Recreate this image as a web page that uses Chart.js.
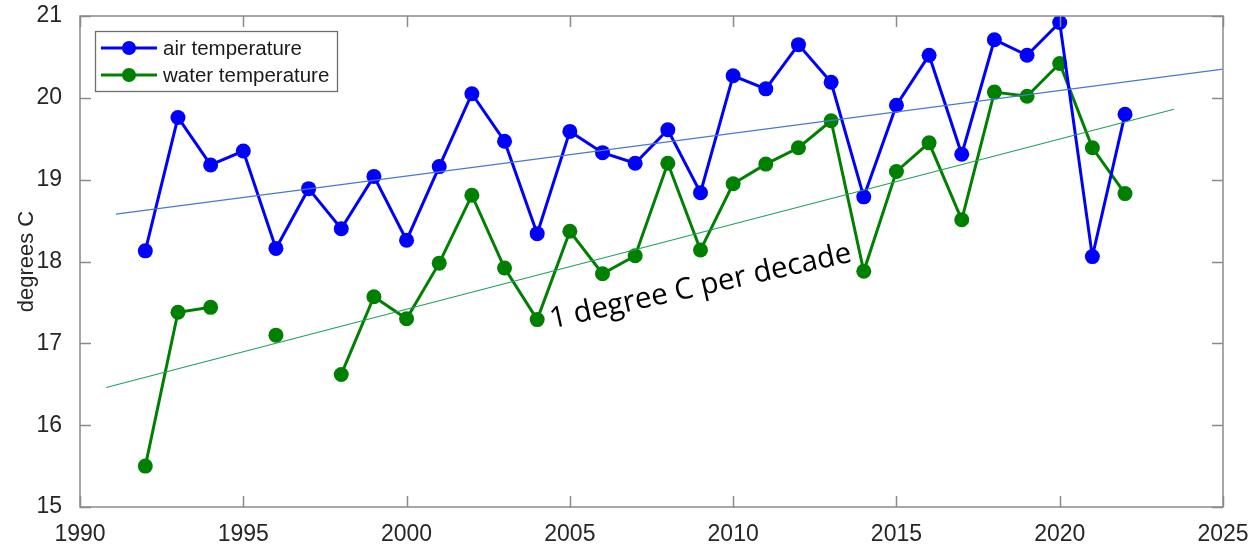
<!DOCTYPE html>
<html>
<head>
<meta charset="utf-8">
<script src="https://cdn.jsdelivr.net/npm/chart.js@4/dist/chart.umd.min.js"></script>
<style>
  body { margin: 0; background: #fff; }
  #wrap { width: 1259px; height: 544px; }
</style>
</head>
<body>
<div id="wrap"><canvas id="tempChart" width="1259" height="544"></canvas></div>
<script>
// yearly mean temperatures, degrees C
var years = [1992, 1993, 1994, 1995, 1996, 1997, 1998, 1999, 2000, 2001, 2002, 2003, 2004, 2005, 2006,
             2007, 2008, 2009, 2010, 2011, 2012, 2013, 2014, 2015, 2016, 2017, 2018, 2019, 2020, 2021, 2022];
var airTemp = [18.13, 19.76, 19.18, 19.35, 18.16, 18.89, 18.40, 19.04, 18.26, 19.16, 20.05, 19.47, 18.34, 19.59, 19.33,
               19.20, 19.61, 18.84, 20.27, 20.11, 20.65, 20.19, 18.79, 19.91, 20.52, 19.31, 20.71, 20.52, 20.92, 18.06, 19.80];
var waterTemp = [15.50, 17.38, 17.44, null, 17.10, null, 16.62, 17.57, 17.30, 17.98, 18.81, 17.92, 17.29, 18.37, 17.85,
                 18.07, 19.20, 18.14, 18.95, 19.19, 19.39, 19.72, 17.88, 19.10, 19.45, 18.51, 20.07, 20.02, 20.42, 19.39, 18.83];

// fitted trend lines (end points)
var airTrendX = [1991.1, 2025];
var airTrendY = [18.58, 20.35];
var waterTrendX = [1990.8, 2023.5];
var waterTrendY = [16.46, 19.86];

var xTicks = [1990, 1995, 2000, 2005, 2010, 2015, 2020, 2025];
var yTicks = [15, 16, 17, 18, 19, 20, 21];
var trendLabel = "1 degree C per decade";

function pts(xs, ys) {
    return xs.map(function (x, i) { return { x: x, y: ys[i] }; });
}

var axisFont = { family: "'Liberation Sans', Arial, sans-serif", size: 23, lineHeight: 1 };

// MATLAB style box with inward ticks
var boxPlugin = {
    id: 'box',
    afterDatasetsDraw: function (chart) {
        var c = chart.ctx, a = chart.chartArea;
        var xs = chart.scales.x, ys = chart.scales.y;
        var len = 11;
        c.save();
        c.strokeStyle = '#8a8a8a';
        c.lineWidth = 1.5;
        c.strokeRect(a.left, a.top, a.right - a.left, a.bottom - a.top);
        c.beginPath();
        xTicks.forEach(function (v) {
            var px = Math.round(xs.getPixelForValue(v)) + 0.5;
            c.moveTo(px, a.bottom); c.lineTo(px, a.bottom - len);
            c.moveTo(px, a.top); c.lineTo(px, a.top + len);
        });
        yTicks.forEach(function (v) {
            var py = Math.round(ys.getPixelForValue(v)) + 0.5;
            c.moveTo(a.left, py); c.lineTo(a.left + len, py);
            c.moveTo(a.right, py); c.lineTo(a.right - len, py);
        });
        c.stroke();
        c.restore();
    }
};

// legend drawn inside the axes, top left
var legendPlugin = {
    id: 'boxLegend',
    afterDraw: function (chart) {
        var c = chart.ctx, a = chart.chartArea;
        var items = chart.data.datasets.filter(function (d) { return d.inLegend; });
        var x0 = a.left + 15, y0 = a.top + 15, w = 242, h = 60, row = 27;
        c.save();
        c.fillStyle = '#fff';
        c.fillRect(x0, y0, w, h);
        c.strokeStyle = '#6e6e6e';
        c.lineWidth = 1.3;
        c.strokeRect(x0 + 0.5, y0 + 0.5, w, h);
        c.font = "20.5px 'Liberation Sans', Arial, sans-serif";
        c.textBaseline = 'middle';
        items.forEach(function (d, i) {
            var yy = y0 + 17 + i * row;
            c.strokeStyle = d.borderColor;
            c.lineWidth = 3;
            c.beginPath();
            c.moveTo(x0 + 6, yy); c.lineTo(x0 + 62, yy);
            c.stroke();
            c.fillStyle = d.pointBackgroundColor;
            c.beginPath();
            c.arc(x0 + 34, yy, 7, 0, Math.PI * 2);
            c.fill();
            c.fillStyle = '#1a1a1a';
            c.fillText(d.label, x0 + 68, yy + 1);
        });
        c.restore();
    }
};

// sloped note under the water trend line
var notePlugin = {
    id: 'note',
    afterDraw: function (chart) {
        var c = chart.ctx;
        var px = chart.scales.x.getPixelForValue(2004.45);
        var py = chart.scales.y.getPixelForValue(17.18);
        c.save();
        c.translate(px, py);
        c.rotate(-12.6 * Math.PI / 180);
        c.font = "29.5px 'Open Sans', 'Noto Sans', sans-serif";
        c.fillStyle = '#000';
        c.textBaseline = 'alphabetic';
        c.fillText(trendLabel, 0, 0);
        c.restore();
    }
};

var ctx = document.getElementById('tempChart').getContext('2d');
var tempChart = new Chart(ctx, {
    type: 'line',
    data: {
        datasets: [{
            label: 'air temperature',
            inLegend: true,
            data: pts(years, airTemp),
            borderColor: '#0000ff',
            backgroundColor: '#0000ff',
            pointBackgroundColor: '#0000ff',
            pointBorderWidth: 0,
            pointRadius: 7.5,
            borderWidth: 3,
            order: 3
        }, {
            label: 'water temperature',
            inLegend: true,
            data: pts(years, waterTemp),
            borderColor: '#008000',
            backgroundColor: '#008000',
            pointBackgroundColor: '#008000',
            pointBorderWidth: 0,
            pointRadius: 7.5,
            borderWidth: 3,
            spanGaps: false,
            order: 4
        }, {
            label: 'air trend',
            data: pts(airTrendX, airTrendY),
            borderColor: '#4a78d0',
            borderWidth: 1.2,
            pointRadius: 0,
            order: 1
        }, {
            label: 'water trend',
            data: pts(waterTrendX, waterTrendY),
            borderColor: '#22a062',
            borderWidth: 1.2,
            pointRadius: 0,
            order: 2
        }]
    },
    options: {
        responsive: false,
        animation: false,
        devicePixelRatio: 1,
        layout: { padding: { top: 16, right: 36, left: 0, bottom: 0 } },
        plugins: {
            legend: { display: false },
            tooltip: { enabled: false }
        },
        scales: {
            x: {
                type: 'linear',
                min: 1990,
                max: 2025,
                afterBuildTicks: function (s) { s.ticks = xTicks.map(function (v) { return { value: v }; }); },
                ticks: { font: axisFont, color: '#262626', padding: 8, maxRotation: 0, callback: function (v) { return String(v); } },
                grid: { display: false },
                border: { display: false },
                afterFit: function (s) { s.height = 37; s.paddingLeft = 0; s.paddingRight = 0; }
            },
            y: {
                min: 15,
                max: 21,
                afterBuildTicks: function (s) { s.ticks = yTicks.map(function (v) { return { value: v }; }); },
                ticks: { font: axisFont, color: '#262626', padding: 10 },
                grid: { display: false },
                border: { display: false },
                title: {
                    display: true,
                    text: 'degrees C',
                    font: { family: "'Liberation Sans', Arial, sans-serif", size: 22 },
                    color: '#262626',
                    padding: { top: 14, bottom: 0 }
                },
                afterFit: function (s) { s.width = 80; s.paddingTop = 0; s.paddingBottom = 0; }
            }
        }
    },
    plugins: [boxPlugin, legendPlugin, notePlugin]
});
</script>
</body>
</html>
